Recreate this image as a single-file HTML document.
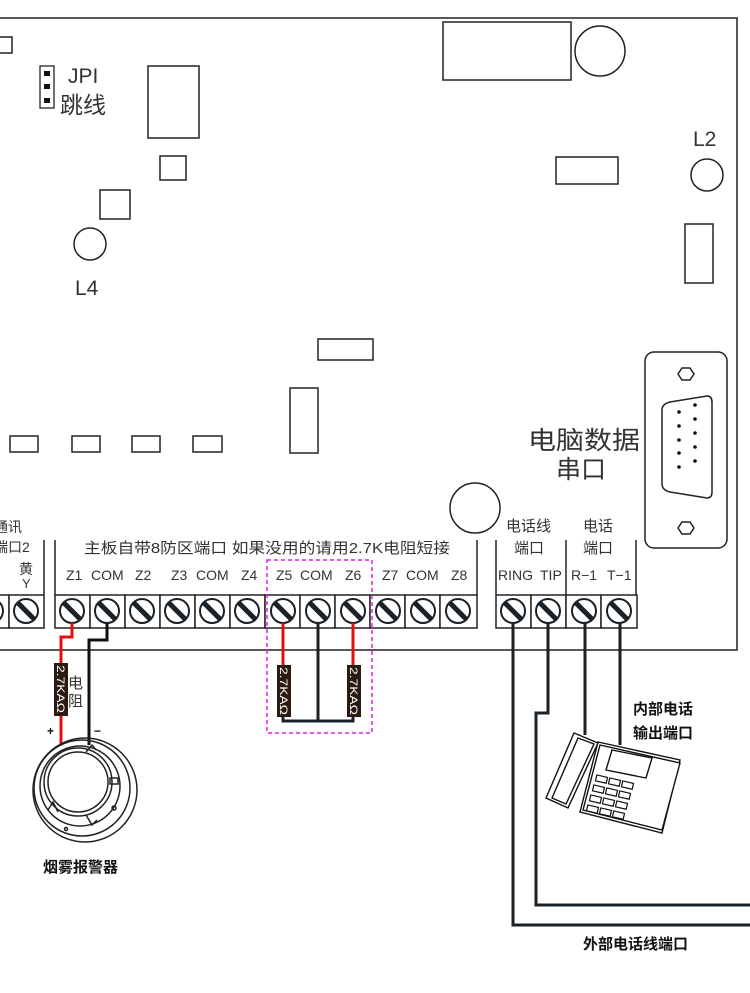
<!DOCTYPE html>
<html><head><meta charset="utf-8"><style>
html,body{margin:0;padding:0;background:#fff;}
svg{display:block;}
text{font-family:"Liberation Sans","Noto Sans CJK SC",sans-serif;}
</style></head><body>
<svg width="750" height="993" viewBox="0 0 750 993" xmlns="http://www.w3.org/2000/svg">
<defs>
<g id="scr">
<circle cx="0" cy="0" r="12" fill="#fff" stroke="#1a2228" stroke-width="2"/>
<line x1="-8" y1="-8" x2="8" y2="8" stroke="#1a2228" stroke-width="5"/>
</g>
</defs>
<g fill="none" stroke="#222" stroke-width="1.5">
<polyline points="0,18 737,18 737,650 0,650"/>
<rect x="-5" y="37" width="17" height="16"/>
<rect x="40" y="66" width="14" height="42" stroke-width="1.3"/>
<rect x="148" y="66" width="51" height="72"/>
<rect x="160" y="156" width="26" height="24"/>
<rect x="100" y="190" width="30" height="29"/>
<circle cx="90" cy="244" r="16"/>
<rect x="443" y="22" width="128" height="58"/>
<circle cx="600" cy="51" r="25"/>
<circle cx="707" cy="175" r="16"/>
<rect x="556" y="157" width="62" height="27"/>
<rect x="685" y="224" width="28" height="59"/>
<rect x="318" y="339" width="55" height="21"/>
<rect x="290" y="388" width="28" height="65"/>
<rect x="10" y="436" width="28" height="16"/>
<rect x="72" y="436" width="28" height="16"/>
<rect x="132" y="436" width="28" height="16"/>
<rect x="193" y="436" width="29" height="16"/>
<circle cx="475" cy="508" r="25"/>
<rect x="645" y="352" width="82" height="196" rx="9"/>
<path d="M662,410 Q662,404 670,402 L707,396 Q712,396 712,402 L712,492 Q712,498 707,498 L670,492 Q662,490 662,484 Z"/>
<polygon points="682,368 690,368 694,374 690,380 682,380 678,374"/>
<polygon points="682,522 690,522 694,528 690,534 682,534 678,528"/>
<line x1="44" y1="540" x2="44" y2="595"/>
<line x1="55" y1="540" x2="55" y2="595"/>
<line x1="477" y1="540" x2="477" y2="595"/>
<line x1="496" y1="540" x2="496" y2="595"/>
<line x1="566" y1="540" x2="566" y2="595"/>
<line x1="636" y1="540" x2="636" y2="595"/>
</g>
<g fill="#111"><rect x="44" y="71" width="6" height="5"/><rect x="44" y="84" width="6" height="5"/><rect x="44" y="98" width="6" height="5"/>
<circle cx="679" cy="412" r="1.8"/><circle cx="679" cy="426" r="1.8"/><circle cx="679" cy="440" r="1.8"/><circle cx="679" cy="453" r="1.8"/><circle cx="679" cy="467" r="1.8"/>
<circle cx="695" cy="405" r="1.8"/><circle cx="695" cy="419" r="1.8"/><circle cx="695" cy="433" r="1.8"/><circle cx="695" cy="447" r="1.8"/><circle cx="695" cy="461" r="1.8"/></g>
<g fill="#333" font-size="21">
<text x="68" y="83">JPI</text>
<text x="60" y="113" font-size="23">跳线</text>
<text x="75" y="295">L4</text>
<text x="693" y="146">L2</text>
<text x="528" y="449" font-size="25" textLength="112" lengthAdjust="spacingAndGlyphs">电脑数据</text>
<text x="556" y="478" font-size="25">串口</text>
</g>
<g fill="#333" font-size="14">
<text x="-6" y="532">通讯</text>
<text x="-6" y="552">端口2</text>
<text x="19" y="574">黄</text>
<text x="22" y="588" font-size="13">Y</text>
<text x="84" y="553" font-size="15" textLength="366" lengthAdjust="spacingAndGlyphs">主板自带8防区端口  如果没用的请用2.7K电阻短接</text>
<text x="66" y="580">Z1</text><text x="91" y="580">COM</text><text x="135" y="580">Z2</text>
<text x="171" y="580">Z3</text><text x="196" y="580">COM</text><text x="241" y="580">Z4</text>
<text x="276" y="580">Z5</text><text x="300" y="580">COM</text><text x="345" y="580">Z6</text>
<text x="382" y="580">Z7</text><text x="406" y="580">COM</text><text x="451" y="580">Z8</text>
<text x="506" y="531" font-size="15">电话线</text><text x="514" y="553" font-size="15">端口</text>
<text x="583" y="531" font-size="15">电话</text><text x="583" y="553" font-size="15">端口</text>
<text x="498" y="580">RING</text><text x="540" y="580">TIP</text>
<text x="571" y="580">R−1</text><text x="607" y="580">T−1</text>
</g>
<g fill="#fff" stroke="#222" stroke-width="1.5">
<rect x="-26" y="595" width="35" height="33"/><rect x="9" y="595" width="35" height="33"/>
<rect x="55" y="595" width="35" height="33"/><rect x="90" y="595" width="35" height="33"/><rect x="125" y="595" width="35" height="33"/><rect x="160" y="595" width="35" height="33"/><rect x="195" y="595" width="35" height="33"/><rect x="230" y="595" width="35" height="33"/><rect x="265" y="595" width="35" height="33"/><rect x="300" y="595" width="35" height="33"/><rect x="335" y="595" width="35" height="33"/><rect x="370" y="595" width="35" height="33"/><rect x="405" y="595" width="35" height="33"/><rect x="440" y="595" width="37" height="33"/>
<rect x="496" y="595" width="35" height="33"/><rect x="531" y="595" width="35" height="33"/><rect x="566" y="595" width="35" height="33"/><rect x="601" y="595" width="36" height="33"/>
</g>
<use href="#scr" x="-9" y="611"/><use href="#scr" x="26" y="611"/>
<use href="#scr" x="72" y="611"/><use href="#scr" x="107" y="611"/><use href="#scr" x="142" y="611"/><use href="#scr" x="177" y="611"/><use href="#scr" x="212" y="611"/><use href="#scr" x="247" y="611"/><use href="#scr" x="283" y="611"/><use href="#scr" x="318" y="611"/><use href="#scr" x="353" y="611"/><use href="#scr" x="388" y="611"/><use href="#scr" x="423" y="611"/><use href="#scr" x="458" y="611"/>
<use href="#scr" x="513" y="611"/><use href="#scr" x="548" y="611"/><use href="#scr" x="584" y="611"/><use href="#scr" x="619" y="611"/>
<rect x="267" y="560" width="105" height="173" fill="none" stroke="#e020e0" stroke-width="1.5" stroke-dasharray="4,3"/>
<g fill="none" stroke-width="3">
<polyline points="72,623 72,637 61,637 61,745" stroke="#e01010"/>
<polyline points="107,623 107,640 89,640 89,745" stroke="#111"/>
<line x1="283" y1="623" x2="283" y2="668" stroke="#e01010"/>
<line x1="353" y1="623" x2="353" y2="668" stroke="#e01010"/>
<polyline points="283,715 283,721 353,721 353,715" stroke="#1a2228"/>
<line x1="318" y1="623" x2="318" y2="721" stroke="#1a2228"/>
<polyline points="513,623 513,925 750,925" stroke="#1a2228"/>
<polyline points="548,623 548,713 536,713 536,905 750,905" stroke="#1a2228"/>
<line x1="585" y1="623" x2="585" y2="735" stroke="#1a2228"/>
<line x1="620" y1="623" x2="620" y2="745" stroke="#1a2228"/>
</g>
<g fill="#2a1a12"><rect x="54" y="663" width="14" height="53"/><rect x="277" y="665" width="14" height="52"/><rect x="347" y="665" width="14" height="52"/></g>
<g fill="#fff" font-size="11">
<text transform="translate(57,665) rotate(90)" textLength="48" lengthAdjust="spacingAndGlyphs">2.7KAΩ</text>
<text transform="translate(280,667) rotate(90)" textLength="48" lengthAdjust="spacingAndGlyphs">2.7KAΩ</text>
<text transform="translate(350,667) rotate(90)" textLength="48" lengthAdjust="spacingAndGlyphs">2.7KAΩ</text>
</g>
<text x="68" y="688" font-size="15" fill="#333">电</text>
<text x="68" y="706" font-size="15" fill="#333">阻</text>
<text x="47" y="735" font-size="12" fill="#111" font-weight="bold">+</text>
<text x="94" y="735" font-size="12" fill="#111" font-weight="bold">−</text>
<g fill="none" stroke="#222" stroke-width="1.5">
<circle cx="85" cy="790" r="52"/>
<circle cx="82" cy="788" r="48"/>
<circle cx="80" cy="786" r="40"/>
<circle cx="78" cy="782" r="34"/>
<circle cx="78" cy="782" r="30"/>
<path d="M86,752 L92,745 L96,750"/><rect x="110" y="778" width="8" height="6"/>
<path d="M48,810 L53,802 L58,812"/><path d="M86,815 L92,825 L97,820"/>
<circle cx="114" cy="808" r="2"/><circle cx="66" cy="829" r="1.5"/>
</g>
<text x="43" y="872" font-size="15" font-weight="bold" fill="#111">烟雾报警器</text>
<g fill="#fff" stroke="#111" stroke-width="1.4">
<polygon points="598,742 680,760 662,833 580,812"/>
<polygon points="600,745 680,763 662,830 583,810"/>
<polygon points="574,733 598,743 568,808 546,798"/>
<polygon points="578,738 594,744 566,804 552,798"/>
<polygon points="612,750 652,758 646,778 606,770"/>
<g stroke-width="1.2">
<rect x="596" y="776" width="11" height="6" transform="rotate(13 601 779)"/><rect x="609" y="779" width="11" height="6" transform="rotate(13 614 782)"/><rect x="622" y="782" width="11" height="6" transform="rotate(13 627 785)"/>
<rect x="593" y="786" width="11" height="6" transform="rotate(13 598 789)"/><rect x="606" y="789" width="11" height="6" transform="rotate(13 611 792)"/><rect x="619" y="792" width="11" height="6" transform="rotate(13 624 795)"/>
<rect x="590" y="796" width="11" height="6" transform="rotate(13 595 799)"/><rect x="603" y="799" width="11" height="6" transform="rotate(13 608 802)"/><rect x="616" y="802" width="11" height="6" transform="rotate(13 621 805)"/>
<rect x="587" y="806" width="11" height="6" transform="rotate(13 592 809)"/><rect x="600" y="809" width="11" height="6" transform="rotate(13 605 812)"/><rect x="613" y="812" width="11" height="6" transform="rotate(13 618 815)"/>
</g>
</g>
<g font-size="15" font-weight="bold" fill="#111">
<text x="633" y="714">内部电话</text>
<text x="633" y="738">输出端口</text>
<text x="583" y="949">外部电话线端口</text>
</g>
</svg>
</body></html>
